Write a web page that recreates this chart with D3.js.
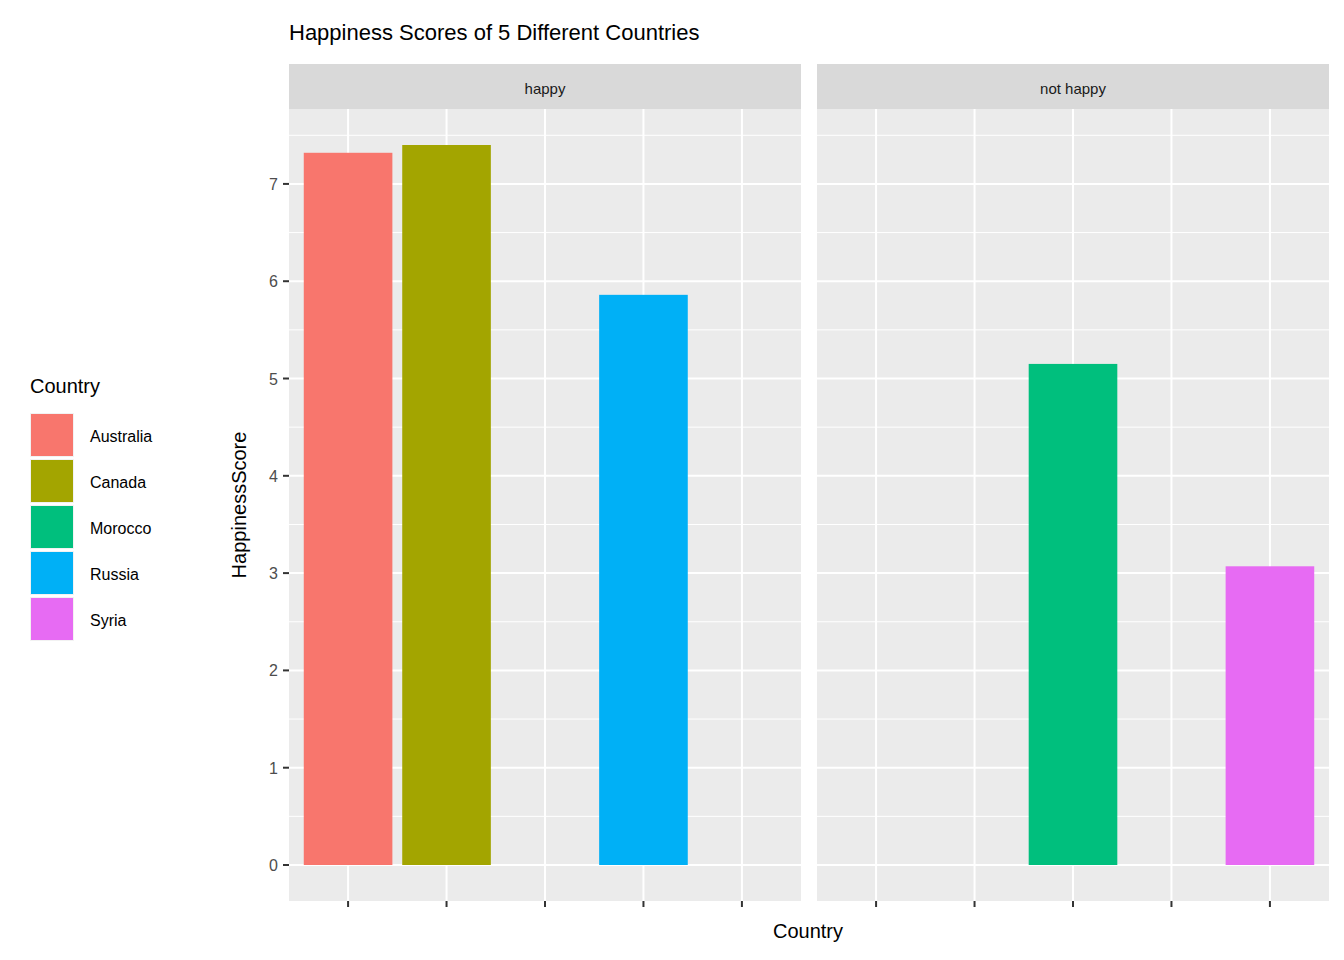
<!DOCTYPE html>
<html><head><meta charset="utf-8">
<script src="https://cdn.jsdelivr.net/npm/d3@7"></script>
<style>body{margin:0;background:#fff;font-family:"Liberation Sans",Arial,sans-serif}</style>
</head><body><svg id="c" width="1344" height="960"></svg>
<script>
const countries=["Australia","Canada","Morocco","Russia","Syria"];
const scores=[7.32,7.40,5.15,5.86,3.07];
const groups=["happy","happy","not happy","happy","not happy"];
const panels=["happy","not happy"];
const colors=["#F8766D","#A3A500","#00BF7D","#00B0F6","#E76BF3"];
const yTicks=[0,1,2,3,4,5,6,7];

const svg=d3.select("#c");
const plotTop=109,plotBottom=901,pw=512,px=[289,817];
const y=d3.scaleLinear().domain([-0.37,7.77]).range([plotBottom,plotTop]);
const x=d3.scalePoint().domain(countries).range([0,pw]).padding(0.6);
const step=x.step(),bw=step*0.9;
const color=d3.scaleOrdinal().domain(countries).range(colors);

svg.append("text").attr("x",289).attr("y",40).attr("font-size",22).attr("fill","#000").text("Happiness Scores of 5 Different Countries");

panels.forEach((p,i)=>{
  const g=svg.append("g").attr("transform",`translate(${px[i]},0)`);
  g.append("rect").attr("x",0).attr("y",64).attr("width",pw).attr("height",45).attr("fill","#D9D9D9");
  g.append("text").attr("x",pw/2).attr("y",94).attr("text-anchor","middle").attr("font-size",15).attr("fill","#1A1A1A").text(p);
  g.append("rect").attr("x",0).attr("y",plotTop).attr("width",pw).attr("height",plotBottom-plotTop).attr("fill","#EBEBEB");
  [0.5,1.5,2.5,3.5,4.5,5.5,6.5,7.5].forEach(v=>g.append("line").attr("x1",0).attr("x2",pw).attr("y1",y(v)).attr("y2",y(v)).attr("stroke","#fff").attr("stroke-width",1));
  yTicks.forEach(v=>g.append("line").attr("x1",0).attr("x2",pw).attr("y1",y(v)).attr("y2",y(v)).attr("stroke","#fff").attr("stroke-width",2));
  countries.forEach(c=>{
    g.append("line").attr("x1",x(c)).attr("x2",x(c)).attr("y1",plotTop).attr("y2",plotBottom).attr("stroke","#fff").attr("stroke-width",2);
    g.append("line").attr("x1",x(c)).attr("x2",x(c)).attr("y1",plotBottom).attr("y2",plotBottom+6).attr("stroke","#333").attr("stroke-width",2);
  });
  countries.forEach((c,j)=>{
    if(groups[j]!==p)return;
    g.append("rect").attr("x",x(c)-bw/2).attr("width",bw).attr("y",y(scores[j])).attr("height",y(0)-y(scores[j])).attr("fill",color(c));
  });
});
yTicks.forEach(v=>{
  svg.append("line").attr("x1",283).attr("x2",289).attr("y1",y(v)).attr("y2",y(v)).attr("stroke","#333").attr("stroke-width",2);
  svg.append("text").attr("x",278).attr("y",y(v)+6).attr("text-anchor","end").attr("font-size",16).attr("fill","#4D4D4D").text(v);
});
svg.append("text").attr("x",808).attr("y",938).attr("text-anchor","middle").attr("font-size",20).text("Country");
svg.append("text").attr("transform","translate(246,505) rotate(-90)").attr("text-anchor","middle").attr("font-size",20).text("HappinessScore");
svg.append("text").attr("x",30).attr("y",393).attr("font-size",20).text("Country");
countries.forEach((c,j)=>{
  const yy=413+j*46;
  svg.append("rect").attr("x",30).attr("y",yy).attr("width",44).attr("height",44).attr("fill","#F2F2F2");
  svg.append("rect").attr("x",31).attr("y",yy+1).attr("width",42).attr("height",42).attr("fill",color(c));
  svg.append("text").attr("x",90).attr("y",yy+29).attr("font-size",16).attr("fill","#000").text(c);
});
</script></body></html>
